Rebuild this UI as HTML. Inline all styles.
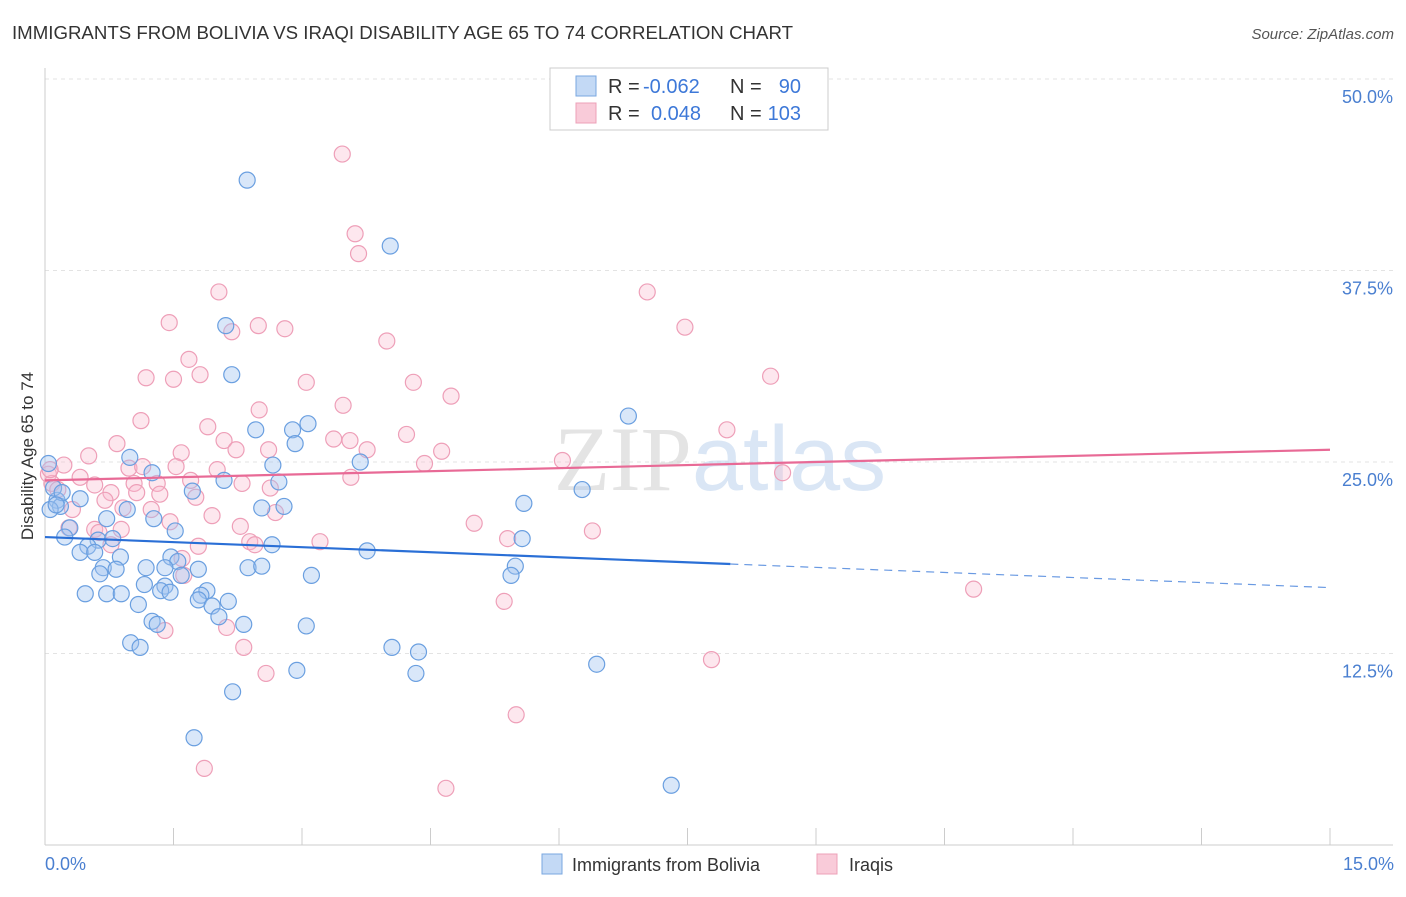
<!DOCTYPE html>
<html><head><meta charset="utf-8"><style>
body{margin:0;background:#fff;font-family:"Liberation Sans",sans-serif}
</style></head><body>
<svg id="chart" width="1406" height="892" xmlns="http://www.w3.org/2000/svg" font-family="Liberation Sans, sans-serif">
<text x="12" y="39" font-size="18" fill="#333" textLength="781" lengthAdjust="spacingAndGlyphs">IMMIGRANTS FROM BOLIVIA VS IRAQI DISABILITY AGE 65 TO 74 CORRELATION CHART</text>
<text x="1394" y="39" font-size="15" fill="#555" font-style="italic" text-anchor="end">Source: ZipAtlas.com</text>
<g id="grid"></g>
<text x="720" y="490" font-size="92" text-anchor="middle" fill="#d8d8d8" opacity="0.55"><tspan font-family="Liberation Serif, serif" fill="#cfcfcf">ZIP</tspan><tspan fill="#bcd3ee">atlas</tspan></text>
<line x1="45" y1="845" x2="1393" y2="845" stroke="#ccc"/>
<line x1="45" y1="68" x2="45" y2="845" stroke="#ccc"/>
<text transform="translate(33,456) rotate(-90)" font-size="17" fill="#333" text-anchor="middle">Disability Age 65 to 74</text>
<text x="45" y="870" font-size="18" fill="#4a7fd0">0.0%</text>
<text x="1394" y="870" font-size="18" fill="#4a7fd0" text-anchor="end">15.0%</text>
<g id="pts"></g>
<g id="lines"></g>
<g font-size="20">
<rect x="550" y="68" width="278" height="62" fill="#fff" stroke="#ccc"/>
<rect x="576" y="76" width="20" height="20" fill="#c3d9f5" stroke="#7aa7e0"/>
<rect x="576" y="103" width="20" height="20" fill="#f9cbd9" stroke="#eda0b8"/>
<text x="608" y="93" fill="#333">R =</text>
<text x="643" y="93" fill="#3d78d8">-0.062</text>
<text x="730" y="93" fill="#333">N =</text>
<text x="801" y="93" fill="#3d78d8" text-anchor="end">90</text>
<text x="608" y="120" fill="#333">R =</text>
<text x="651" y="120" fill="#3d78d8">0.048</text>
<text x="730" y="120" fill="#333">N =</text>
<text x="801" y="120" fill="#3d78d8" text-anchor="end">103</text>
</g>
<rect x="542" y="854" width="20" height="20" fill="#c3d9f5" stroke="#7aa7e0"/>
<text x="572" y="871" font-size="18" fill="#333">Immigrants from Bolivia</text>
<rect x="817" y="854" width="20" height="20" fill="#f9cbd9" stroke="#eda0b8"/>
<text x="849" y="871" font-size="18" fill="#333">Iraqis</text>
</svg>
<script>
const yTicks=[12.5,25,37.5,50];
const yTickLabels=["12.5%","25.0%","37.5%","50.0%"];
const xTicks=[0,1.5,3,4.5,6,7.5,9,10.5,12,13.5,15];
const boliviaX=[2.36,4.03,2.11,2.18,6.81,3.07,2.46,2.89,2.92,0.99,3.68,2.66,1.25,2.09,2.73,6.27,1.72,0.41,0.14,5.59,2.79,2.53,0.96,0.18,1.27,0.72,0.29,1.52,0.23,0.62,0.79,5.57,2.65,0.50,0.41,0.58,0.88,1.47,3.76,1.55,2.37,2.53,1.18,1.79,0.68,0.83,5.49,0.64,1.40,1.59,3.11,5.44,1.16,1.40,1.89,0.47,0.72,0.89,1.35,1.46,1.82,2.14,1.79,1.09,1.95,2.03,1.25,1.31,2.32,3.05,1.00,1.11,4.05,4.36,6.44,2.94,4.33,2.19,1.74,7.31,0.04,0.10,0.20,0.06,0.13];
const boliviaY=[43.4,39.1,33.9,30.7,28.0,27.5,27.1,27.1,26.2,25.3,25.0,24.8,24.3,23.8,23.7,23.2,23.1,22.6,22.5,22.3,22.1,22.0,21.9,22.1,21.3,21.3,20.7,20.5,20.1,19.9,20.0,20.0,19.6,19.5,19.1,19.1,18.8,18.8,19.2,18.5,18.1,18.2,18.1,18.0,18.1,18.0,18.2,17.7,18.1,17.6,17.6,17.6,17.0,16.9,16.6,16.4,16.4,16.4,16.6,16.5,16.3,15.9,16.0,15.7,15.6,14.9,14.6,14.4,14.4,14.3,13.2,12.9,12.9,12.6,11.8,11.4,11.2,10.0,7.0,3.9,24.9,23.3,23.0,21.9,22.2];
const iraqX=[3.47,3.62,3.66,2.03,7.03,1.45,2.49,2.80,2.18,7.47,3.99,1.68,1.18,1.50,1.81,8.47,3.05,4.30,4.74,3.48,2.50,1.12,1.90,4.22,7.96,3.37,3.56,0.84,2.09,2.23,2.61,3.76,4.63,1.59,0.51,6.04,4.43,1.53,0.22,0.98,1.14,2.01,8.61,3.57,0.41,1.70,2.30,1.04,1.31,0.58,2.63,0.77,1.07,1.34,0.70,1.76,0.91,0.32,1.24,2.69,1.95,1.46,5.01,2.28,0.28,0.58,0.63,6.39,0.89,3.21,5.40,2.39,2.45,0.77,1.79,1.60,1.62,10.84,5.36,2.12,1.40,2.32,7.78,2.58,5.50,1.86,4.68,0.04,0.08,0.15,0.06];
const iraqY=[45.1,39.9,38.6,36.1,36.1,34.1,33.9,33.7,33.5,33.8,32.9,31.7,30.5,30.4,30.7,30.6,30.2,30.2,29.3,28.7,28.4,27.7,27.3,26.8,27.1,26.5,26.4,26.2,26.4,25.8,25.8,25.8,25.7,25.6,25.4,25.1,24.9,24.7,24.8,24.6,24.7,24.5,24.3,24.0,24.0,23.8,23.6,23.6,23.6,23.5,23.3,23.0,23.0,22.9,22.5,22.7,22.0,21.9,21.9,21.7,21.5,21.1,21.0,20.8,20.7,20.6,20.4,20.5,20.6,19.8,20.0,19.8,19.6,19.6,19.5,18.7,17.6,16.7,15.9,14.2,14.0,12.9,12.1,11.2,8.5,5.0,3.7,24.2,23.6,23.2,24.5];
const boliviaTrend=[20.1,16.8];
const iraqTrend=[23.8,25.8];
const NS="http://www.w3.org/2000/svg";
function sx(v){return 45+v/15*1285;}
function sy(v){return 845-v*15.32;}
function mk(t,a,p){const e=document.createElementNS(NS,t);for(const k in a)e.setAttribute(k,a[k]);p.appendChild(e);return e;}
const grid=document.getElementById('grid');
yTicks.forEach((t,i)=>{
  const l=mk('line',{x1:45,x2:1393,y1:sy(t),y2:sy(t),stroke:'#e3e3e3','stroke-dasharray':'4,4'},grid);
  
  
  const tx=mk('text',{x:1393,y:sy(t)+24,'font-size':18,fill:'#4a7fd0','text-anchor':'end'},grid);
  tx.textContent=yTickLabels[i];
  
  
});
xTicks.forEach(t=>{
  const l=mk('line',{x1:sx(t),x2:sx(t),y1:828,y2:845,stroke:'#ccc'},grid);
  
  
});
const pts=document.getElementById('pts');
function draw(X,Y,fill,stroke,name){
  X.forEach((x,i)=>{
    const c=mk('circle',{cx:sx(x),cy:sy(Y[i]),r:8,fill:fill,stroke:stroke,'stroke-width':1.2},pts);
    
    
  });
}
draw(iraqX,iraqY,'rgba(248,185,205,0.35)','#ee9fb8','iraqi-point');
draw(boliviaX,boliviaY,'rgba(160,196,240,0.4)','#6a9fe0','bolivia-point');
const lines=document.getElementById('lines');
function yAt(tr,x){return tr[0]+(tr[1]-tr[0])*x/15;}
let l1=mk('line',{x1:sx(0),y1:sy(boliviaTrend[0]),x2:sx(8),y2:sy(yAt(boliviaTrend,8)),stroke:'#2a6fd6','stroke-width':2.2},lines);


let l2=mk('line',{x1:sx(8),y1:sy(yAt(boliviaTrend,8)),x2:sx(15),y2:sy(boliviaTrend[1]),stroke:'#2a6fd6','stroke-width':1.2,'stroke-dasharray':'8,6',opacity:0.7},lines);


let l3=mk('line',{x1:sx(0),y1:sy(iraqTrend[0]),x2:sx(15),y2:sy(iraqTrend[1]),stroke:'#e86a96','stroke-width':2.2},lines);


</script>
</body></html>
